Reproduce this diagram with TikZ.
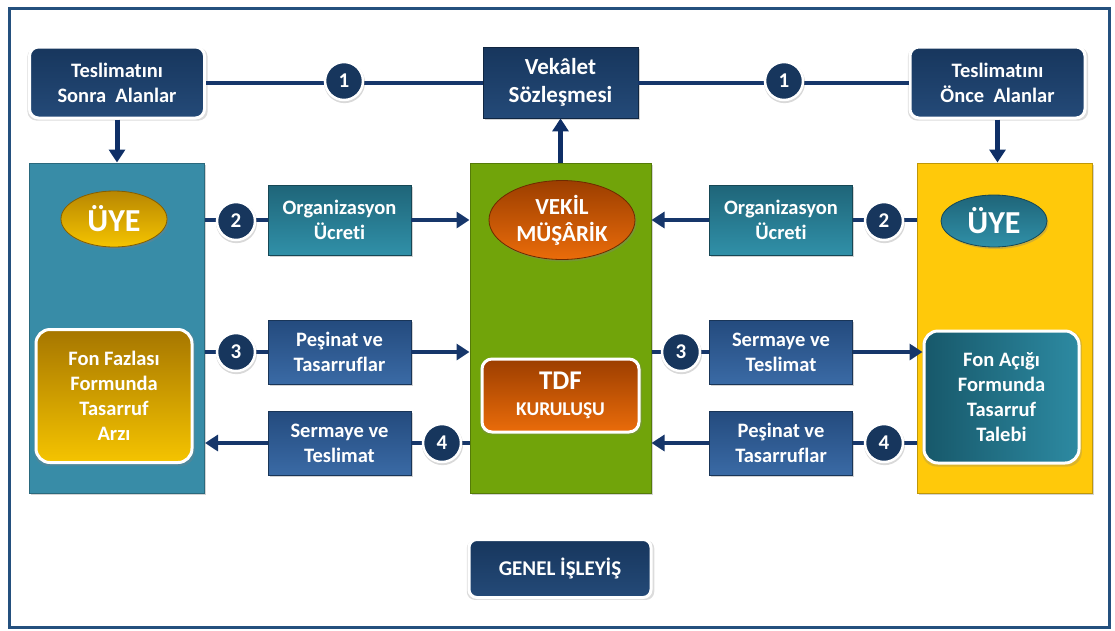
\documentclass[tikz,border=0pt]{standalone}
\usepackage{fontspec}
\setmainfont{Carlito}[Ligatures=NoCommon]
\usetikzlibrary{arrows.meta,shadows,shapes.geometric}

\definecolor{navy}{HTML}{17365D}
\definecolor{navyb}{HTML}{244A78}
\definecolor{framec}{HTML}{24507E}
\definecolor{linec}{HTML}{16366A}
\definecolor{arrowc}{HTML}{0F2F66}
\definecolor{tealcol}{HTML}{388CA7}
\definecolor{greencol}{HTML}{71A40A}
\definecolor{yellowcol}{HTML}{FFC90A}
\definecolor{orgtop}{HTML}{1F6579}
\definecolor{orgbot}{HTML}{3090A8}
\definecolor{bluetop}{HTML}{244B7E}
\definecolor{bluebot}{HTML}{3A6AA5}
\definecolor{goldtop}{HTML}{A67600}
\definecolor{goldbot}{HTML}{F5C400}
\definecolor{orangetop}{HTML}{9C3E00}
\definecolor{orangebot}{HTML}{EA6C0A}
\definecolor{tealdark}{HTML}{17586A}
\definecolor{teallight}{HTML}{2D8AA2}

\begin{document}
\begin{tikzpicture}[x=1pt,y=-1pt,
  lbl/.style={font=\bfseries\fontsize{20.5}{25}\selectfont, text=white, align=center, inner sep=0pt},
  shade/.style={drop shadow={opacity=0.35, shadow xshift=1.5pt, shadow yshift=-2pt}},
  halo/.style={drop shadow={opacity=0.28, shadow xshift=0.5pt, shadow yshift=-1.5pt, shadow scale=1.03}},
  headbox/.style={lbl, rectangle, rounded corners=9pt, top color=navy, bottom color=navyb,
    draw=white, line width=3pt, halo},
  flatbox/.style={lbl, rectangle, top color=navy, bottom color=navyb, draw=navy!70!black,
    line width=0.8pt, shade},
  column/.style={rectangle, draw=#1!75!black, line width=1pt, fill=#1, shade},
  orgbox/.style={lbl, rectangle, top color=orgtop, bottom color=orgbot, draw=orgtop!70!black,
    line width=0.8pt, shade, minimum width=143pt, minimum height=70pt},
  flowbox/.style={lbl, rectangle, top color=bluetop, bottom color=bluebot, draw=bluetop!70!black,
    line width=0.8pt, shade, minimum width=143pt, minimum height=64pt},
  innerbox/.style={lbl, rectangle, rounded corners=14pt, draw=white, line width=3pt, halo},
  badge/.style={circle, fill=navy, draw=white, line width=2.5pt, minimum size=38pt, inner sep=0pt,
    text=white, font=\bfseries\fontsize{21}{22}\selectfont,
    drop shadow={opacity=0.3, shadow xshift=0.5pt, shadow yshift=-1.5pt, shadow scale=1.08}},
  conn/.style={draw=linec, line width=4pt},
  arr/.style={draw=linec, line width=4pt, -{Triangle[length=13pt,width=16pt]}},
  varr/.style={draw=arrowc, line width=5pt, -{Triangle[length=13pt,width=16pt]}}
]
\useasboundingbox (0,0) rectangle (1115,630);
% outer frame
\draw[framec, line width=3.5pt] (9.5,8.5) rectangle (1109.5,627.5);

% top row
\node[headbox, minimum width=175pt, minimum height=71pt] (sonra) at (117,82.5) {Teslimatını\\Sonra~~Alanlar};
\node[flatbox, font=\bfseries\fontsize{23}{28}\selectfont, minimum width=155pt, minimum height=71pt] (vekalet) at (560.5,82.5) {Vekâlet\\Sözleşmesi};
\node[headbox, minimum width=175pt, minimum height=71pt] (once) at (997.5,82.5) {Teslimatını\\Önce~~Alanlar};

% three columns
\node[column=tealcol, minimum width=175pt, minimum height=330pt] (leftcol) at (117,328) {};
\node[column=greencol, minimum width=181pt, minimum height=330pt] (midcol) at (560.5,328) {};
\node[column=yellowcol, minimum width=175pt, minimum height=330pt] (rightcol) at (1004.5,328) {};

% shapes inside the columns
\node[ellipse, lbl, font=\bfseries\fontsize{32}{34}\selectfont, top color=goldtop!80!yellowcol, bottom color=goldbot,
  draw=goldtop!80!black, line width=0.8pt, minimum width=106pt, minimum height=56pt, shade] (uyeL) at (114,219) {ÜYE};
\node[ellipse, lbl, font=\bfseries\fontsize{32}{34}\selectfont, top color=orgtop, bottom color=orgbot,
  draw=orgtop!70!black, line width=0.8pt, minimum width=106pt, minimum height=52pt, shade] (uyeR) at (994,221) {ÜYE};
\node[ellipse, lbl, font=\bfseries\fontsize{23}{27}\selectfont, top color=orangetop, bottom color=orangebot,
  draw=orangetop!70!black, line width=0.8pt, minimum width=146pt, minimum height=79pt, shade] (vekil) at (562,220) {VEKİL\\MÜŞÂRİK};
\node[innerbox, top color=goldtop, bottom color=goldbot, minimum width=156pt, minimum height=133pt] (fazla) at (114,396) {Fon Fazlası\\Formunda\\Tasarruf\\Arzı};
\node[innerbox, left color=tealdark, right color=teallight, minimum width=155pt, minimum height=132pt] (acik) at (1001.5,397) {Fon Açığı\\Formunda\\Tasarruf\\Talebi};
\node[innerbox, rounded corners=10pt, top color=orangetop, bottom color=orangebot, minimum width=157pt, minimum height=73pt] (tdf) at (560.5,395.5)
  {{\fontsize{27}{29}\selectfont TDF}\\[1pt]{\fontsize{19.5}{22}\selectfont KURULUŞU}};

% flow boxes between the columns
\node[orgbox] (orgL) at (339.5,220) {Organizasyon\\Ücreti};
\node[orgbox] (orgR) at (781,220) {Organizasyon\\Ücreti};
\node[flowbox] (pesL) at (339.5,352) {Peşinat ve\\Tasarruflar};
\node[flowbox] (serL) at (339.5,443) {Sermaye ve\\Teslimat};
\node[flowbox] (serR) at (781,352) {Sermaye ve\\Teslimat};
\node[flowbox] (pesR) at (781,443) {Peşinat ve\\Tasarruflar};

% title box
\node[headbox, rounded corners=8pt, font=\bfseries\fontsize{21}{24}\selectfont, minimum width=182pt, minimum height=58pt] (genel) at (560,568.5) {GENEL İŞLEYİŞ};

% connectors
\draw[conn] (sonra.east) -- (vekalet.west);
\draw[conn] (vekalet.east) -- (once.west);
\draw[varr] (sonra.south) -- (sonra.south |- leftcol.north);
\draw[varr] (once.south) -- (once.south |- rightcol.north);
\draw[varr] (midcol.north -| vekalet.south) -- (vekalet.south);

\draw[conn] (leftcol.east |- orgL.west) -- (orgL.west);
\draw[arr] (orgL.east) -- (midcol.west |- orgL.east);
\draw[conn] (rightcol.west |- orgR.east) -- (orgR.east);
\draw[arr] (orgR.west) -- (midcol.east |- orgR.west);

\draw[conn] (leftcol.east |- pesL.west) -- (pesL.west);
\draw[arr] (pesL.east) -- (midcol.west |- pesL.east);
\draw[conn] (midcol.west |- serL.east) -- (serL.east);
\draw[arr] (serL.west) -- (leftcol.east |- serL.west);

\draw[conn] (midcol.east |- serR.west) -- (serR.west);
\draw[arr] (serR.east) -- (acik.west |- serR.east);
\draw[conn] (rightcol.west |- pesR.east) -- (pesR.east);
\draw[arr] (pesR.west) -- (midcol.east |- pesR.west);

% numbered badges on the connectors
\node[badge] (n1L) at (344,81) {1};
\node[badge] (n1R) at (784,81) {1};
\node[badge] (n2L) at (236,221) {2};
\node[badge] (n2R) at (884,221) {2};
\node[badge] (n3L) at (236,352) {3};
\node[badge] (n3R) at (681,352) {3};
\node[badge] (n4L) at (442,443) {4};
\node[badge] (n4R) at (884,443) {4};
\end{tikzpicture}
\end{document}
